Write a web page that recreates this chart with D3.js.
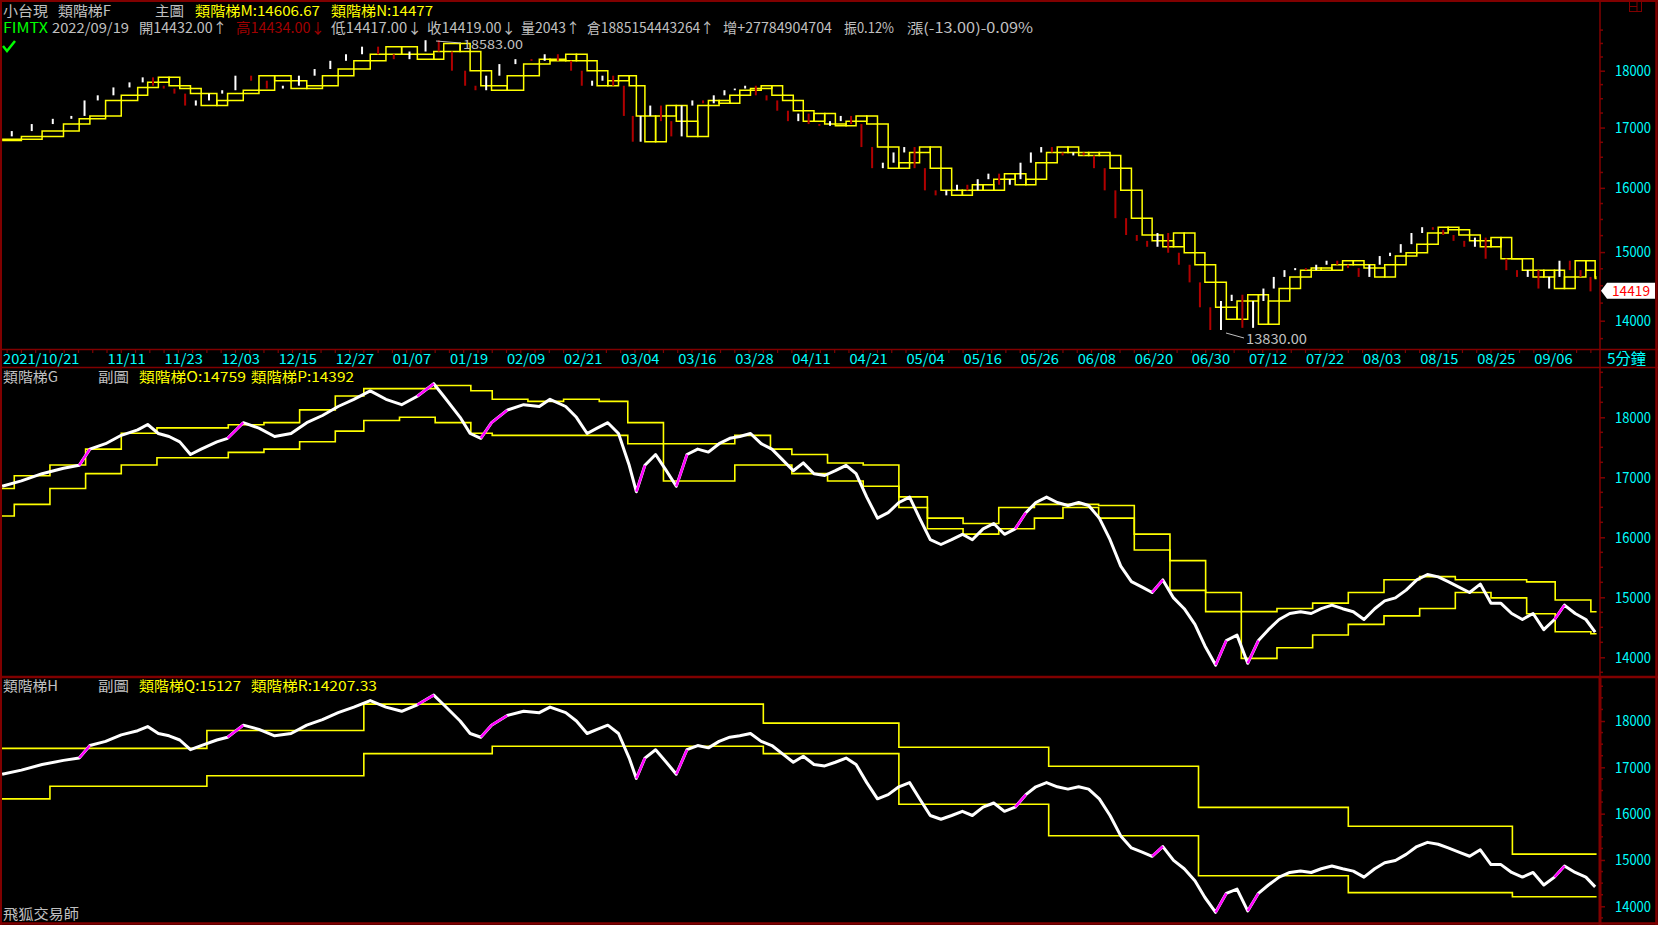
<!DOCTYPE html>
<html><head><meta charset="utf-8">
<script src="https://cdn.jsdelivr.net/npm/d3@7"></script>
<style>body{margin:0;background:#000;overflow:hidden}text{font-family:"Noto Sans CJK TC","Noto Sans CJK SC",sans-serif}</style>
</head><body>
<svg id="c" width="1658" height="925"></svg>
<script>
// ---------- data ----------
const dateLabels = ["2021/10/21","11/11","11/23","12/03","12/15","12/27","01/07","01/19","02/09","02/21","03/04","03/16","03/28","04/11","04/21","05/04","05/16","05/26","06/08","06/20","06/30","07/12","07/22","08/03","08/15","08/25","09/06"];
const dateLabelDay = [0,15,23,31,39,47,55,63,71,79,87,95,103,111,119,127,135,143,151,159,167,175,183,191,199,207,215];
// price samples: position in trading days since 2021/10/21, and value
const priceDay = [0.3,3.0,5.9,8.9,11.1,12.6,14.8,17.0,19.3,20.7,22.2,23.7,25.2,26.7,28.2,30.4,31.9,34.1,36.3,38.5,40.8,43.0,45.2,47.4,49.6,51.9,54.1,56.3,58.5,60.8,62.2,64.5,65.9,67.4,68.9,71.1,73.4,75.6,77.1,79.3,80.8,82.3,83.7,85.2,86.7,88.2,89.2,90.4,91.9,93.4,94.8,96.3,97.8,99.3,100.8,102.3,103.7,105.2,106.7,108.2,109.7,111.2,112.6,114.1,115.6,117.1,118.6,120.0,121.5,123.0,124.5,126.0,127.5,128.9,130.4,131.9,133.4,134.9,136.3,137.8,139.3,140.8,142.3,143.8,145.2,146.7,148.2,149.7,151.2,152.6,154.1,155.6,157.1,158.6,160.1,161.5,163.0,164.5,166.0,167.5,168.9,170.4,171.9,173.4,174.9,176.4,177.8,179.3,180.8,182.3,183.8,185.2,186.7,188.2,189.7,191.2,192.7,194.1,195.6,197.1,198.6,200.1,201.6,203.0,204.5,206.0,207.5,209.0,210.4,211.9,213.4,214.9,216.4,217.9,219.3,220.8,222.3,223.6];
const priceVal = [16850,16940,17060,17150,17200,17470,17560,17700,17790,17880,17730,17680,17590,17380,17470,17590,17650,17910,17820,17680,17730,17910,18030,18180,18300,18440,18300,18210,18350,18560,18350,18000,17730,17650,17910,18120,18210,18180,18300,18180,18000,17730,17820,17910,17730,17200,16760,17200,17380,17110,16850,17380,17470,17420,17560,17650,17680,17730,17560,17470,17290,17110,17240,17060,17030,17110,17200,17060,16670,16320,16410,16580,16670,16320,15960,15880,15960,16050,15960,16140,16230,16050,16140,16410,16580,16670,16580,16530,16580,16530,16320,15960,15520,15260,15170,15080,15290,14990,14810,14550,14190,13870,14280,14370,13900,14280,14460,14630,14730,14760,14730,14810,14870,14810,14760,14630,14810,14940,14990,15120,15290,15380,15340,15260,15170,15080,15220,14900,14900,14730,14630,14730,14460,14630,14870,14730,14630,14419];
// daily-style ladders of panel 1 (M, N), steps start at each priceDay sample
const ladderM = [16780,16800,16850,16940,17060,17150,17200,17470,17560,17700,17790,17880,17730,17680,17590,17380,17470,17590,17650,17910,17820,17680,17730,17910,18030,18180,18300,18440,18300,18210,18350,18500,18350,18000,17730,17650,17910,18120,18210,18180,18300,18180,18000,17730,17820,17910,17730,17200,16760,17200,17380,17110,16850,17380,17470,17420,17560,17650,17680,17730,17560,17470,17290,17110,17240,17060,17030,17110,17200,17060,16670,16320,16410,16580,16670,16320,15960,15880,15960,16050,15960,16140,16230,16050,16140,16410,16580,16670,16580,16530,16580,16530,16320,15960,15520,15260,15170,15080,15290,14990,14810,14550,14190,14020,14280,14370,13950,14280,14460,14630,14730,14760,14730,14810,14870,14810,14760,14630,14810,14940,14990,15120,15290,15380,15340,15260,15170,15080,15220,14900,14900,14730,14630,14730,14460,14630,14870,14607];
const ladderN = [16800,16850,16940,17060,17150,17200,17470,17560,17700,17790,17880,17730,17680,17590,17380,17470,17590,17650,17910,17820,17680,17730,17910,18030,18180,18300,18440,18300,18210,18350,18500,18350,18000,17730,17650,17910,18120,18210,18180,18300,18180,18000,17730,17820,17910,17730,17200,16760,17200,17380,17110,16850,17380,17470,17420,17560,17650,17680,17730,17560,17470,17290,17110,17240,17060,17030,17110,17200,17060,16670,16320,16410,16580,16670,16320,15960,15880,15960,16050,15960,16140,16230,16050,16140,16410,16580,16670,16580,16530,16580,16530,16320,15960,15520,15260,15170,15080,15290,14990,14810,14550,14190,14020,14280,14370,13950,14280,14460,14630,14730,14760,14730,14810,14870,14810,14760,14630,14810,14940,14990,15120,15290,15380,15340,15260,15170,15080,15220,14900,14900,14730,14630,14730,14460,14630,14870,14730,14630,14477];
// weekly ladders (panel 2): first trading day of each week, upper O, lower P
const weekStart = [0,2,7,12,17,22,27,32,37,42,47,51,56,61,66,69,74,79,84,88,93,98,103,108,111,116,121,126,130,135,140,145,149,154,159,164,169,174,179,184,189,194,199,204,209,214,218,223];
const ladderO = [16814,17027,17204,17469,17735,17823,17823,17876,17912,18124,18354,18478,18478,18531,18442,18301,18265,18301,18265,17912,17558,17558,17699,17469,17381,17239,17204,16673,16319,16230,16496,16549,16549,16531,16053,15611,15080,14761,14814,14903,15080,15292,15345,15292,15292,15257,14956,14759];
const ladderP = [16354,16549,16814,17062,17204,17327,17327,17416,17469,17593,17770,17947,18000,17912,17735,17699,17699,17699,17699,17558,16938,16938,17204,17204,17062,16938,16850,16496,16142,16053,16142,16319,16496,16319,15788,15115,14761,13982,14159,14372,14549,14690,14814,15080,14991,14726,14425,14392];
// monthly ladders (panel 3): first trading day of each month, upper Q, lower R
const monthStart = [0,7,29,51,69,84,107,126,147,168,189,212];
const ladderQ = [17409,17409,17795,18364,18364,18364,17955,17432,17023,16136,15727,15127];
const ladderR = [16318,16591,16818,17295,17454,17454,17295,16204,15522,14659,14295,14207];
const axisTicks = [14000,15000,16000,17000,18000];

// ---------- drawing ----------
const svg = d3.select("#c");
const RED = "#800000", CY = "#00ffff", GR = "#c0c0c0", YE = "#ffff00";
svg.append("rect").attr("width",1658).attr("height",925).attr("fill","#000");
const x = d3.scaleLinear().domain([0,224]).range([0,1598]);
const y1 = d3.scaleLog().domain([14000,18000]).range([320.7,70.7]);
const y2 = d3.scaleLinear().domain([14000,18000]).range([657.3,417.3]);
const y3 = d3.scaleLinear().domain([14000,18000]).range([906.3,721]);

function clip(id,y0,h){svg.append("clipPath").attr("id",id).append("rect").attr("x",0).attr("y",y0).attr("width",1600).attr("height",h);}
clip("c1",30,319); clip("c2",368,308); clip("c3",678,244);

function ladder(g, days, vals, ys, w){
  const pts=[];
  days.forEach((d,i)=>{const e = i<days.length-1?days[i+1]:223.8; pts.push([x(d),ys(vals[i])],[x(e),ys(vals[i])]);});
  g.append("path").attr("d",d3.line()(pts)).attr("fill","none").attr("stroke",YE).attr("stroke-width",w||1.6);
}
const priceData = priceDay.map((d,i)=>({d, v:priceVal[i]}));
const segs = priceData.slice(1).map((p,i)=>[priceData[i],p]);
function priceLine(g, ys){
  const line = d3.line().x(p=>x(p.d)).y(p=>ys(p.v));
  g.append("path").attr("d",line(priceData)).attr("fill","none").attr("stroke","#fff").attr("stroke-width",3).attr("stroke-linejoin","round");
  g.selectAll("line.up").data(segs.filter(s=>s[1].v-s[0].v>200)).enter().append("line")
    .attr("x1",s=>x(s[0].d)).attr("y1",s=>ys(s[0].v)).attr("x2",s=>x(s[1].d)).attr("y2",s=>ys(s[1].v)).attr("stroke","#ff00ff").attr("stroke-width",2.5);
}
// panel 1
const g1 = svg.append("g").attr("clip-path","url(#c1)");
ladder(g1, priceDay, ladderM, y1, 1.5);
ladder(g1, priceDay, ladderN, y1, 1.5);
g1.selectAll("line.c").data(segs).enter().append("line")
  .attr("x1",s=>x((s[0].d+s[1].d)/2)).attr("x2",s=>x((s[0].d+s[1].d)/2)).attr("y1",s=>y1(s[0].v)).attr("y2",s=>y1(s[1].v))
  .attr("stroke",s=>s[1].v>=s[0].v?"#fff":"#b00000").attr("stroke-width",2);
// panel 2
const g2 = svg.append("g").attr("clip-path","url(#c2)");
ladder(g2, weekStart, ladderO, y2);
ladder(g2, weekStart, ladderP, y2);
priceLine(g2,y2);
// panel 3
const g3 = svg.append("g").attr("clip-path","url(#c3)");
ladder(g3, monthStart, ladderQ, y3);
ladder(g3, monthStart, ladderR, y3);
priceLine(g3,y3);

// right axes
function rAxis(ys, top, bottom){
  const g = svg.append("g").attr("transform","translate(1600,0)");
  const minor = d3.range(13500,19001,250).filter(v=>v%1000!==0 && ys(v)>top && ys(v)<bottom);
  g.selectAll("line.m").data(minor).enter().append("line").attr("x1",0).attr("x2",3).attr("y1",v=>ys(v)).attr("y2",v=>ys(v)).attr("stroke",RED).attr("stroke-width",1.5);
  const ax = d3.axisRight(ys).tickValues(axisTicks).tickSize(5).tickPadding(10).tickFormat(d3.format("d"));
  g.call(ax);
  g.select(".domain").remove();
  g.selectAll(".tick line").attr("stroke",RED).attr("stroke-width",1.5);
  g.selectAll(".tick text").attr("fill",CY).attr("font-size",15).attr("textLength",36).attr("lengthAdjust","spacingAndGlyphs");
}
rAxis(y1,30,348);
rAxis(y2,368,676);
rAxis(y3,678,921);

// frame lines
const L = (x1,y1_,x2,y2_,w)=>svg.append("line").attr("x1",x1).attr("y1",y1_).attr("x2",x2).attr("y2",y2_).attr("stroke",RED).attr("stroke-width",w||1.5);
L(0,1,1658,1,2); L(1,0,1,925,2); L(1656.5,0,1656.5,925,2.5); L(0,923.5,1658,923.5,2.5);
L(1600,0,1600,925,1.5);
L(0,349.5,1658,349.5,1.5); L(0,367.5,1658,367.5,1.5); L(0,677,1658,677,2.5);
L(1600,677,1600,925,3);
// x axis ticks
const xt = d3.range(1,224,2);
svg.selectAll("line.xt").data(xt).enter().append("line").attr("x1",d=>x(d)).attr("x2",d=>x(d)).attr("y1",349.5).attr("y2",353).attr("stroke",RED).attr("stroke-width",1.2);
svg.selectAll("text.xl").data(dateLabels).enter().append("text").attr("x",(d,i)=>i===0?3:x(dateLabelDay[i])+0.5).attr("y",364)
  .attr("fill",CY).attr("font-size",14).attr("textLength",d=>d.length*7.65).attr("lengthAdjust","spacingAndGlyphs").text(d=>d);
svg.append("text").attr("x",1607).attr("y",364).attr("fill",CY).attr("font-size",15).attr("textLength",39).attr("lengthAdjust","spacingAndGlyphs").text("5分鐘");

// header texts
function T(s,x0,x1,yb,col,size){svg.append("text").attr("x",x0).attr("y",yb).attr("fill",col).attr("font-size",size||14).attr("textLength",x1-x0).attr("lengthAdjust","spacingAndGlyphs").text(s);}
T("小台現",3,48,16,GR); T("類階梯F",58,111,16,GR); T("主圖",155,184,16,GR);
T("類階梯M:14606.67",195,320,16,YE); T("類階梯N:14477",331,433,16,YE);
T("FIMTX",3,48,33,"#00ff00"); T("2022/09/19",52,129,33,GR); T("開14432.00↑",139,227,33,GR);
T("高14434.00↓",236,325,33,"#a00000");
T("低14417.00↓",331,422,33,GR); T("收14419.00↓",427,516,33,GR);
T("量2043↑",521,580,33,GR); T("倉1885154443264↑",587,714,33,GR);
T("增+27784904704",723,832,33,GR); T("振0.12%",844,894,33,GR); T("漲(-13.00)-0.09%",907,1033,33,GR);
svg.append("polyline").attr("points","3,46 7,51 15,41").attr("fill","none").attr("stroke","#00ff00").attr("stroke-width",2.5);
T("類階梯G",3,58,382,GR); T("副圖",98,129,382,GR); T("類階梯O:14759",139,246,382,YE); T("類階梯P:14392",251,354,382,YE);
T("類階梯H",3,58,691,GR); T("副圖",98,129,691,GR); T("類階梯Q:15127",139,241,691,YE); T("類階梯R:14207.33",251,377,691,YE);
T("飛狐交易師",3,79,919,GR);
// annotations
svg.append("line").attr("x1",436).attr("y1",41).attr("x2",461).attr("y2",43).attr("stroke",GR).attr("stroke-width",1);
T("18583.00",463,523,49,GR,12);
svg.append("line").attr("x1",1226).attr("y1",333).attr("x2",1244).attr("y2",338).attr("stroke",GR).attr("stroke-width",1);
T("13830.00",1246,1307,344,GR);
// last price tag
svg.append("path").attr("d","M1601,290.7 L1607,282.7 L1655,282.7 L1655,298.7 L1607,298.7 Z").attr("fill","#fff");
T("14419",1612,1650,296,"#ff0000",14);
// top-right icon
svg.append("rect").attr("x",1629.5).attr("y",1.5).attr("width",12).attr("height",10).attr("fill","none").attr("stroke",RED);
L(1637,1.5,1637,11.5,1); L(1629.5,6.5,1637,6.5,1);
</script>
</body></html>
